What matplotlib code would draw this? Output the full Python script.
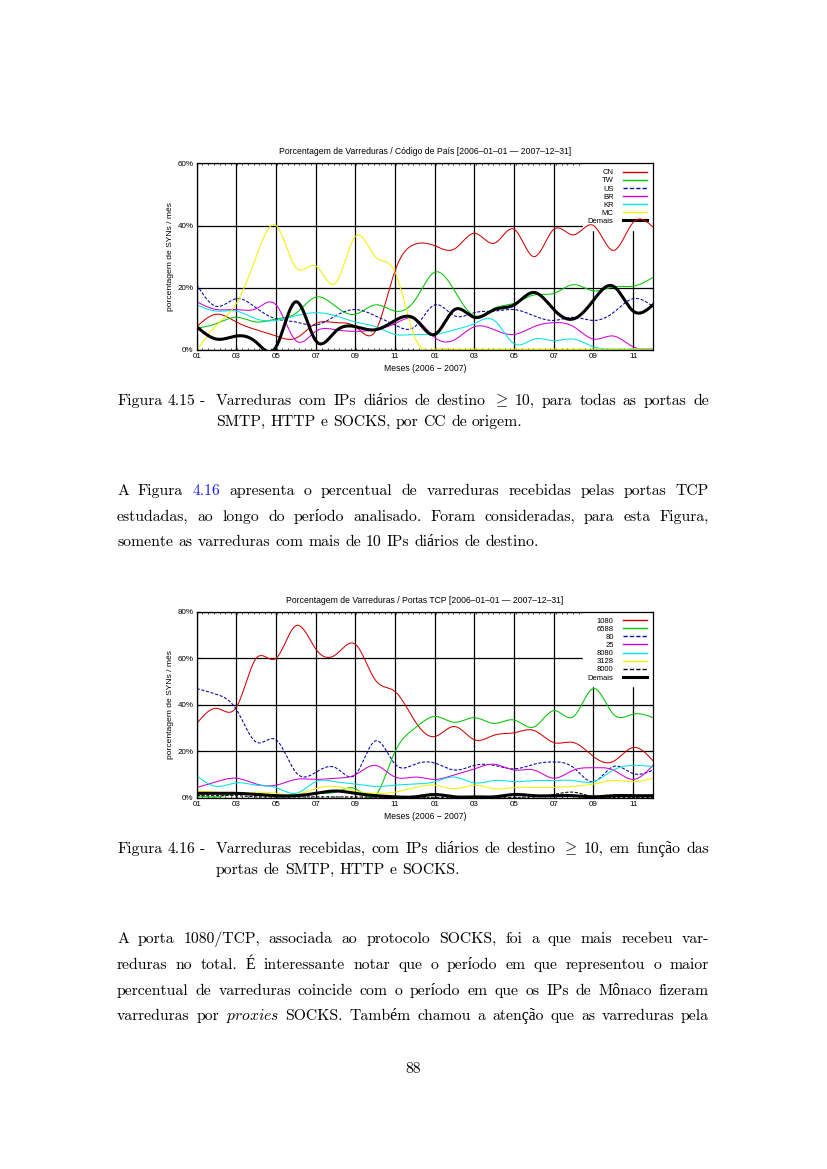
import numpy as np
import matplotlib
matplotlib.use("Agg")
import matplotlib.pyplot as plt

W, H = 827, 1169

# ---- chart data (monthly values, 2006-01 .. 2007-12) ----
months = list(range(24))
xtick_pos = list(range(0, 24, 2))
xtick_labels = ["01", "03", "05", "07", "09", "11"] * 2

cc_names = ["CN", "TW", "US", "BR", "KR", "MC", "Demais"]
cc_cn = [7.5, 11.5, 9, 6.5, 4.5, 3.8, 8.5, 8.8, 7.5, 6, 25.5, 34,
         33.5, 32.5, 37.5, 34.3, 38.8, 30, 38.8, 37, 40, 32, 41, 39.5]
cc_tw = [7, 8.5, 10.5, 9, 10, 11.8, 17, 14, 11.5, 14.5, 12.5, 16,
         25, 19, 11, 13.4, 15, 17.7, 18.2, 21, 19, 20.3, 20.5, 23.3]
cc_us = [21, 14, 16.5, 13.5, 10, 9, 8, 11, 13, 11, 8, 7.5,
         14.5, 11, 12, 12.5, 13, 11, 9.5, 10.5, 9.5, 12, 16.5, 14]
cc_br = [15.5, 13, 13, 13.3, 14.5, 3, 6, 6.5, 6, 6.5, 8.5, 10,
         4, 3.3, 7.5, 6.5, 5, 7.5, 8.8, 7.5, 3.5, 4.5, 1, 0.5]
cc_kr = [14.5, 12.5, 12.5, 10, 9.5, 11, 12, 11, 9, 7.5, 5, 5,
         5, 6.5, 8.5, 9.5, 2, 3.5, 3, 3.5, 1, 0.3, 0.3, 0.3]
cc_mc = [0, 8, 15, 30, 40, 26.5, 27, 21.5, 36.5, 30, 25, 4,
         0.3, 0.3, 0.3, 0.3, 0.3, 0.3, 0.3, 0.3, 0.3, 0.3, 0.3, 0.3]
cc_other = [7.5, 3.5, 4.5, 2.5, 1, 15.5, 3, 6, 7.5, 6.5, 9.5, 10,
            5, 13, 10.5, 13, 14.5, 18.5, 13, 10, 16, 20.5, 12.5, 14.5]

port_names = ["1080", "6588", "80", "25", "8080", "3128", "8000", "Demais"]
p_1080 = [32, 38.5, 39, 60, 60, 74, 64, 61.5, 66, 50.7, 45.7, 33,
          26.4, 30.7, 25, 27, 28, 29, 23.8, 23.8, 17.8, 15.7, 21.7, 16]
p_6588 = [1, 0.5, 2, 2, 1, 1, 2, 2.5, 4, 1, 20, 30,
          35, 32.5, 34.5, 32, 33.5, 30.5, 37.5, 35, 47, 36, 36, 34.5]
p_80 = [47, 44.5, 38, 24, 25, 11, 11, 13, 10, 24.5, 14.5, 14.5,
        15, 12, 14, 14, 12.5, 14.5, 15.5, 13, 7, 13.5, 10.5, 12]
p_25 = [4.5, 7, 8.5, 6, 5.5, 8, 8, 8.5, 10, 14, 9, 9,
        8, 10, 12.5, 14.5, 12, 12, 8.5, 12, 13, 12, 8, 14]
p_8080 = [9.5, 5, 6.5, 5.5, 4.5, 2, 7, 7, 6, 5, 5.5, 6,
          7, 9, 6.5, 7.5, 7, 7.5, 7.5, 7.5, 7, 12, 14, 13.5]
p_3128 = [3, 2.5, 2, 2.5, 2, 1.5, 4, 5, 3, 2, 2.5, 4.5,
          5.5, 4, 5.5, 4, 4.5, 4.5, 4.5, 5, 6, 7.5, 7, 8.5]
p_8000 = [1, 1, 1, 0.5, 0.5, 0.5, 0.5, 0.5, 0.5, 0.3, 0.3, 0.3,
          0.3, 0.3, 0.3, 0.3, 0.3, 0.5, 1.5, 2.5, 0.5, 0.3, 0.3, 0.3]
p_other = [2, 2, 2, 1.5, 1, 1, 2, 3, 2, 1, 0.5, 0.5,
           1.5, 0.5, 0.5, 0.5, 1.5, 1, 1, 1, 0.5, 1, 1, 1]

RED, GREEN, BLUE = "#d40000", "#00c800", "#0000a8"
MAG, CYAN, YEL = "#d000d8", "#00e4e4", "#f2f200"
thin = 0.75
cc_styles = [dict(color=RED, lw=thin), dict(color=GREEN, lw=thin),
             dict(color=BLUE, lw=thin, dashes=(3, 1.6)), dict(color=MAG, lw=thin),
             dict(color=CYAN, lw=thin), dict(color=YEL, lw=thin),
             dict(color="black", lw=2.2)]
port_styles = cc_styles[:6] + [dict(color="black", lw=thin, dashes=(3, 1.6)),
                               dict(color="black", lw=2.2)]

SANS = "Liberation Sans"
SERIF = ["cmr10", "Liberation Serif"]
plt.rcParams["mathtext.fontset"] = "cm"
plt.rcParams["axes.formatter.use_mathtext"] = True


def csplines(x, y, n=600):
    # natural cubic spline, like gnuplot "smooth csplines"
    x = np.asarray(x, float)
    y = np.asarray(y, float)
    k = len(x)
    h = np.diff(x)
    A = np.zeros((k, k))
    b = np.zeros(k)
    A[0, 0] = A[-1, -1] = 1
    for i in range(1, k - 1):
        A[i, i - 1] = h[i - 1]
        A[i, i] = 2 * (h[i - 1] + h[i])
        A[i, i + 1] = h[i]
        b[i] = 6 * ((y[i + 1] - y[i]) / h[i] - (y[i] - y[i - 1]) / h[i - 1])
    M = np.linalg.solve(A, b)
    xs = np.linspace(x[0], x[-1], n)
    j = np.clip(np.searchsorted(x, xs) - 1, 0, k - 2)
    hj = h[j]
    t0 = x[j + 1] - xs
    t1 = xs - x[j]
    ys = (M[j] * t0 ** 3 / (6 * hj) + M[j + 1] * t1 ** 3 / (6 * hj)
          + (y[j] / hj - M[j] * hj / 6) * t0 + (y[j + 1] / hj - M[j + 1] * hj / 6) * t1)
    return xs, ys


fig = plt.figure(figsize=(W / 100, H / 100), dpi=100)


def chart(top, bottom, title, names, series, styles, ymax):
    ax = fig.add_axes([196.7 / W, 1 - bottom / H, (653 - 196.7) / W, (bottom - top) / H])
    for name, vals, st in zip(names, series, styles):
        xs, ys = csplines(months, vals)
        ax.plot(xs, ys, label=name, zorder=2, **st)
    ax.set_xlim(0, 23)
    ax.set_ylim(0, ymax)
    ax.set_xticks(xtick_pos)
    ax.set_xticklabels(xtick_labels)
    yt = list(range(0, ymax + 1, 20))
    ax.set_yticks(yt)
    ax.set_yticklabels([f"{v}%" for v in yt])
    ax.set_xticks(np.arange(0, 23.01, 23 / 80), minor=True)
    ax.set_axisbelow(True)
    ax.grid(True, which="major", color="black", lw=0.9)
    ax.tick_params(which="major", direction="in", length=3, width=0.8, top=True, right=True,
                   labelsize=5.8, pad=2.2)
    ax.tick_params(which="minor", direction="in", length=1.6, width=0.5, top=True)
    for lab in ax.get_xticklabels() + ax.get_yticklabels():
        lab.set_family(SANS)
    for s in ax.spines.values():
        s.set_linewidth(0.9)
    ax.set_title(title, fontsize=6.2, family=SANS, pad=6.5)
    ax.set_xlabel("Meses (2006 \u2212 2007)", fontsize=6.2, family=SANS, labelpad=3)
    ax.set_ylabel("porcentagem de SYNs / m\u00eas", fontsize=6.1, family=SANS, labelpad=2.5)
    leg = ax.legend(loc="upper right", bbox_to_anchor=(1.0, 1.0), markerfirst=False,
                    frameon=True, fancybox=False, edgecolor="white", facecolor="white",
                    framealpha=1, borderaxespad=0.15, borderpad=0.6, handlelength=3.2,
                    handletextpad=1.2, labelspacing=0.1,
                    prop=dict(family=SANS, size=5.5))
    for ln in leg.get_lines():
        if ln.get_linewidth() < 1:
            ln.set_linewidth(1.0)
    leg.set_zorder(1.5)
    return ax


chart(163.3, 350, "Porcentagem de Varreduras / C\u00f3digo de Pa\u00eds [2006\u201301\u201301 \u2014 2007\u201312\u201331]",
      cc_names, [cc_cn, cc_tw, cc_us, cc_br, cc_kr, cc_mc, cc_other], cc_styles, 60)
chart(611.7, 798, "Porcentagem de Varreduras / Portas TCP [2006\u201301\u201301 \u2014 2007\u201312\u201331]",
      port_names, [p_1080, p_6588, p_80, p_25, p_8080, p_3128, p_8000, p_other], port_styles, 80)

# ---- page text ----
BODY = 11.3
LINK = "#1a1aff"
GEQ = r"$\geq$"
renderer = fig.canvas.get_renderer()


def put_line(text, x0, x1, y, justify=True, link=False):
    arts = []
    for w in text.split(" "):
        color = LINK if (link and w == "4.16") else "black"
        if w == "proxies":
            w = r"$\mathit{proxies}$"
        arts.append(fig.text(0, 1 - y / H, w, color=color, fontsize=BODY, family=SERIF,
                             va="baseline", ha="left"))
    widths = [t.get_window_extent(renderer).width for t in arts]
    if justify and len(arts) > 1:
        gap = (x1 - x0 - sum(widths)) / (len(arts) - 1)
    else:
        gap = BODY * 100 / 72 * 0.33
    x = x0
    for t, wd in zip(arts, widths):
        t.set_x(x / W)
        x += wd + gap


L, R, IND = 117, 709, 216

put_line("Figura 4.15 -", L, IND, 405, justify=False)
put_line("Varreduras com IPs di\u00e1rios de destino " + GEQ + " 10, para todas as portas de", IND, R, 405)
put_line("SMTP, HTTP e SOCKS, por CC de origem.", IND, R, 426, justify=False)

put_line("A Figura 4.16 apresenta o percentual de varreduras recebidas pelas portas TCP", L, R, 495, link=True)
put_line("estudadas, ao longo do per\u00edodo analisado. Foram consideradas, para esta Figura,", L, R, 521)
put_line("somente as varreduras com mais de 10 IPs di\u00e1rios de destino.", L, R, 546, justify=False)

put_line("Figura 4.16 -", L, IND, 853, justify=False)
put_line("Varreduras recebidas, com IPs di\u00e1rios de destino " + GEQ + " 10, em fun\u00e7\u00e3o das", IND, R, 853)
put_line("portas de SMTP, HTTP e SOCKS.", IND, R, 874, justify=False)

put_line("A porta 1080/TCP, associada ao protocolo SOCKS, foi a que mais recebeu var-", L, R, 943)
put_line("reduras no total. \u00c9 interessante notar que o per\u00edodo em que representou o maior", L, R, 969)
put_line("percentual de varreduras coincide com o per\u00edodo em que os IPs de M\u00f4naco fizeram", L, R, 995)
put_line("varreduras por proxies SOCKS. Tamb\u00e9m chamou a aten\u00e7\u00e3o que as varreduras pela", L, R, 1020)

fig.text(413 / W, 1 - 1073 / H, "88", fontsize=BODY, family=SERIF, ha="center", va="baseline")

fig.savefig("out.png", dpi=100)
